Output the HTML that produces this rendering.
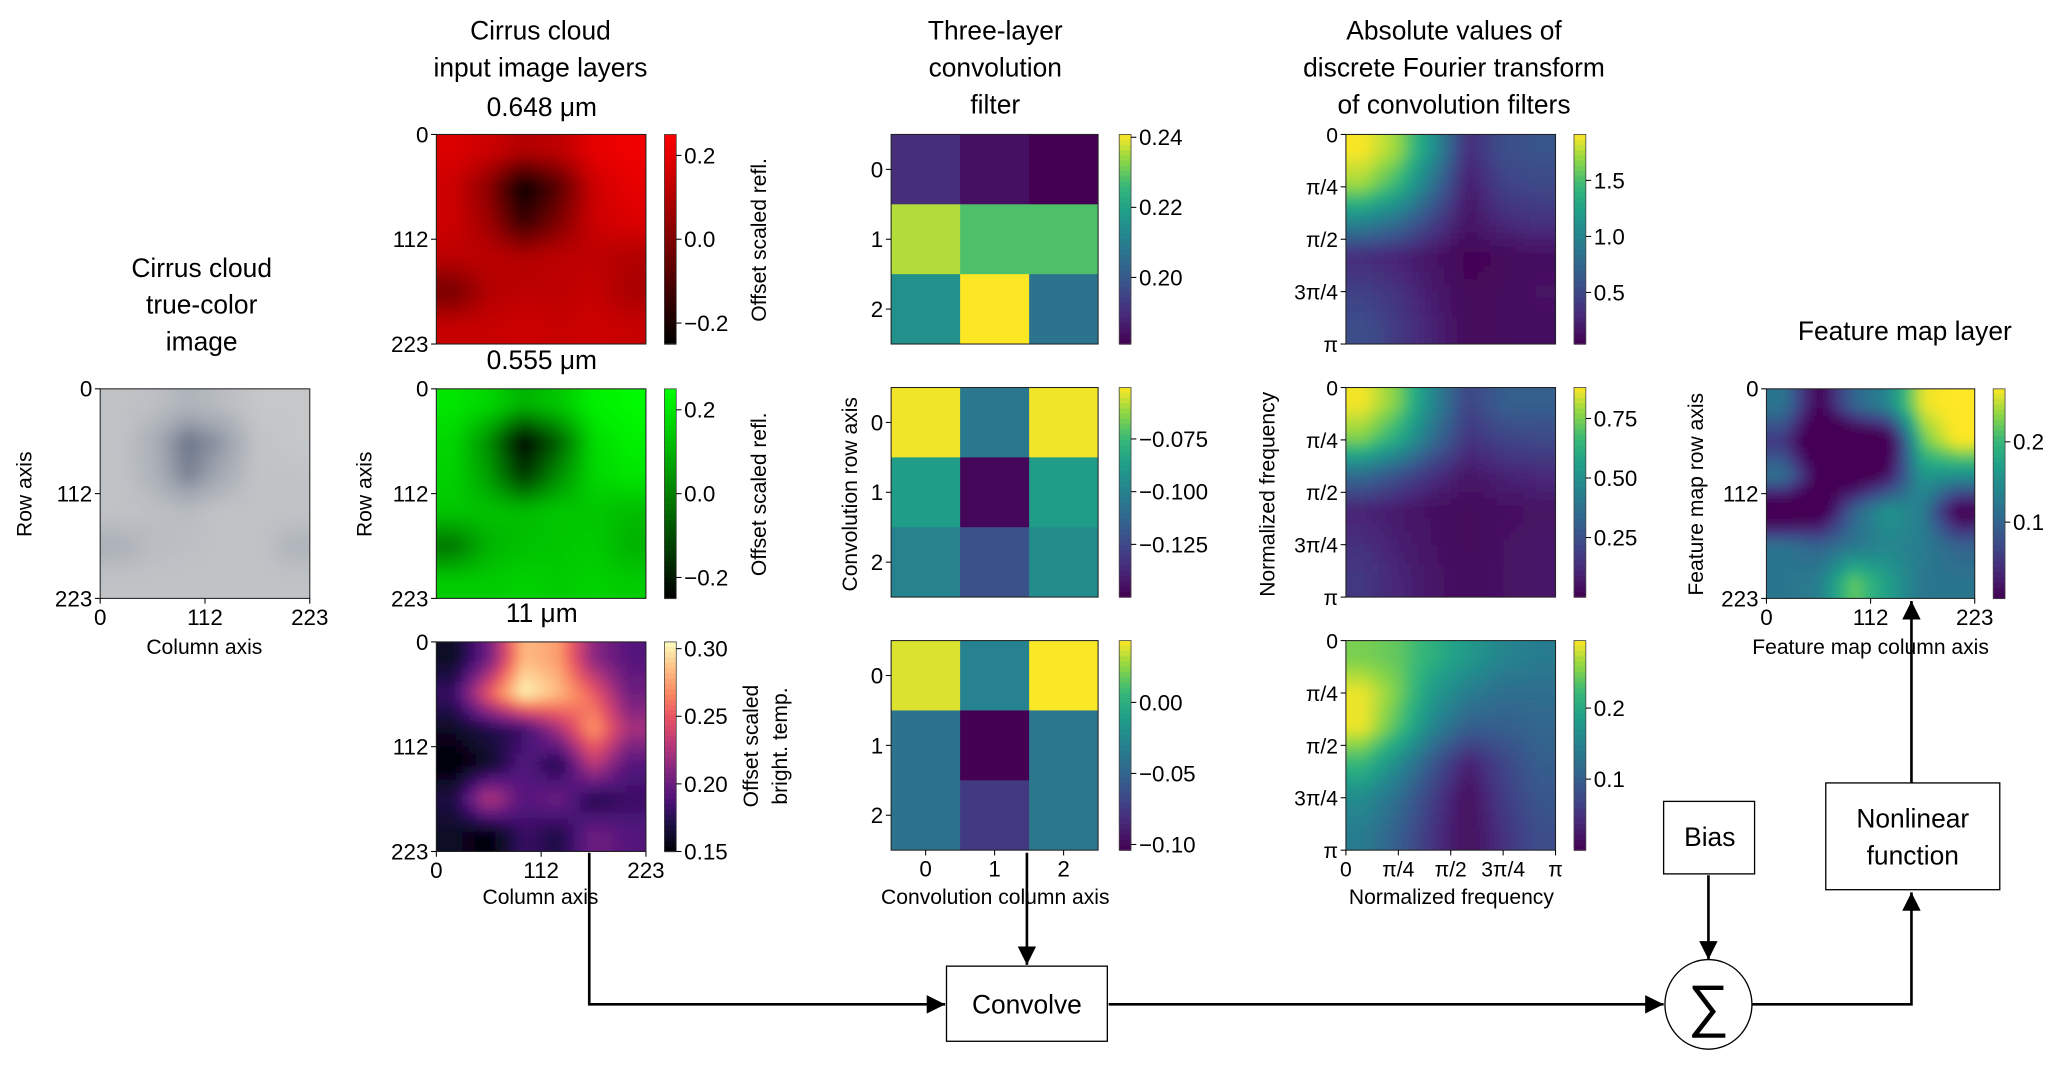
<!DOCTYPE html>
<html><head><meta charset="utf-8">
<style>
html,body{margin:0;padding:0;background:#fff;}
svg{display:block;}
text{font-family:"Liberation Sans","DejaVu Sans",sans-serif;fill:#000;}
</style></head>
<body>
<svg id="fig" width="2067" height="1065" viewBox="0 0 1568 808" preserveAspectRatio="none" xmlns="http://www.w3.org/2000/svg">
<defs>
<filter id="blur" x="-0.2" y="-0.2" width="1.4" height="1.4"><feGaussianBlur stdDeviation="4" edgeMode="duplicate"/></filter>
<marker id="arr" viewBox="0 0 10 10" refX="10" refY="5" markerWidth="7" markerHeight="7" orient="auto"><path d="M0,0 L10,5 L0,10 z" fill="#000"/></marker>
</defs>
</svg>
<script>
// ---- data ----
const trueColorGrid=[[0.1,0.15,0.3,0.2,0.05,0.05],[0.1,0.35,0.85,0.6,0.1,0.05],[0.1,0.3,0.75,0.4,0.1,0.1],[0.1,0.15,0.2,0.1,0.1,0.1],[0.35,0.2,0.15,0.1,0.1,0.3],[0.1,0.1,0.1,0.1,0.1,0.1]];
const redGrid=[[0.18,0.15,0.1,0.12,0.2,0.22],[0.15,0.02,-0.24,-0.08,0.15,0.2],[0.15,0.06,-0.14,0.0,0.15,0.18],[0.12,0.12,0.1,0.12,0.12,0.1],[-0.02,0.1,0.12,0.12,0.14,0.08],[0.14,0.14,0.15,0.14,0.15,0.14]];
const greenGrid=[[0.2,0.17,0.1,0.14,0.22,0.24],[0.17,0.03,-0.24,-0.06,0.18,0.22],[0.16,0.06,-0.14,0.03,0.17,0.2],[0.14,0.13,0.12,0.14,0.14,0.12],[-0.02,0.1,0.13,0.14,0.15,0.1],[0.15,0.15,0.16,0.15,0.16,0.15]];
const btGrid=[[0.16,0.2,0.28,0.27,0.21,0.19],[0.18,0.25,0.3,0.28,0.25,0.2],[0.16,0.17,0.18,0.22,0.27,0.22],[0.15,0.16,0.19,0.17,0.23,0.19],[0.17,0.23,0.19,0.2,0.17,0.18],[0.16,0.15,0.18,0.17,0.2,0.19]];
const filter1=[[0.19,0.184,0.181],[0.236,0.228,0.228],[0.215,0.243,0.207]];
const filter2=[[-0.052,-0.105,-0.052],[-0.088,-0.148,-0.088],[-0.1,-0.122,-0.095]];
const filter3=[[0.038,-0.03,0.043],[-0.04,-0.104,-0.038],[-0.04,-0.075,-0.038]];
const fft1=[[1.9,1.7,1.1,0.3,0.55,0.6],[1.7,1.4,0.8,0.2,0.45,0.5],[1.0,0.8,0.45,0.15,0.3,0.35],[0.3,0.25,0.15,0.05,0.08,0.12],[0.45,0.35,0.2,0.08,0.1,0.15],[0.55,0.4,0.25,0.08,0.1,0.12]];
const fft2=[[0.87,0.75,0.45,0.2,0.3,0.3],[0.75,0.6,0.35,0.15,0.2,0.22],[0.35,0.25,0.14,0.06,0.1,0.12],[0.1,0.07,0.04,0.02,0.04,0.05],[0.14,0.09,0.05,0.02,0.05,0.06],[0.17,0.11,0.06,0.03,0.05,0.06]];
const fft3=[[0.25,0.24,0.21,0.18,0.15,0.14],[0.29,0.25,0.18,0.14,0.12,0.12],[0.29,0.23,0.15,0.1,0.1,0.11],[0.22,0.16,0.09,0.03,0.07,0.1],[0.16,0.12,0.06,0.01,0.06,0.09],[0.14,0.1,0.05,0.01,0.05,0.08]];
const featureGrid=[[0.12,0.0,0.1,0.14,0.26,0.27],[0.05,-0.05,-0.05,-0.03,0.22,0.27],[0.12,0.0,-0.03,0.02,0.16,0.15],[-0.05,-0.03,0.1,0.16,0.13,-0.01],[0.12,0.1,0.12,0.14,0.13,0.1],[0.12,0.13,0.22,0.17,0.12,0.12]];
const pixTicks=['0','112','223'];
const filtTicks=['0','1','2'];
const freqTicks=['0','π/4','π/2','3π/4','π'];
const cbRedTicks=[0.2,0.0,-0.2];
const cbBtTicks=[0.30,0.25,0.20,0.15];
const cbF1Ticks=[0.24,0.22,0.20];
const cbF2Ticks=[-0.075,-0.100,-0.125];
const cbF3Ticks=[0.00,-0.05,-0.10];
const cbFft1Ticks=[1.5,1.0,0.5];
const cbFft2Ticks=[0.75,0.50,0.25];
const cbFft3Ticks=[0.2,0.1];
const cbFeatTicks=[0.2,0.1];

const NS='http://www.w3.org/2000/svg';
const svg=document.getElementById('fig');
function el(tag,attrs,parent){const e=document.createElementNS(NS,tag);for(const k in attrs)e.setAttribute(k,attrs[k]);(parent||svg).appendChild(e);return e;}
function hex(c){return [parseInt(c.slice(1,3),16),parseInt(c.slice(3,5),16),parseInt(c.slice(5,7),16)];}
function mk(stops){return t=>{t=Math.max(0,Math.min(1,t));for(let i=1;i<stops.length;i++){if(t<=stops[i][0]){const a=stops[i-1],b=stops[i];const f=(t-a[0])/(b[0]-a[0]);const A=hex(a[1]),B=hex(b[1]);return 'rgb('+A.map((v,j)=>Math.round(v+(B[j]-v)*f)).join(',')+')';}}return stops[stops.length-1][1];};}
const viridis=mk([[0,'#440154'],[0.13,'#482878'],[0.25,'#3e4989'],[0.38,'#31688e'],[0.5,'#26828e'],[0.63,'#1f9e89'],[0.75,'#35b779'],[0.88,'#8fd744'],[1,'#fde725']]);
const magma=mk([[0,'#000004'],[0.13,'#1c1044'],[0.25,'#4f127b'],[0.38,'#812581'],[0.5,'#b5367a'],[0.63,'#e55064'],[0.75,'#fb8761'],[0.88,'#fec287'],[1,'#fcfdbf']]);
const reds=mk([[0,'#000000'],[1,'#ff0000']]);
const greens=mk([[0,'#000000'],[1,'#00ff00']]);
const grays=mk([[0,'#c9cbcc'],[0.5,'#9ea4ae'],[1,'#56607a']]);
let clipId=0;

// bilinear sample of grid at fractional (row, col) in cell-center coordinates
function sample(grid,fr,fc){
  const R=grid.length,C=grid[0].length;
  fr=Math.max(0,Math.min(R-1,fr));fc=Math.max(0,Math.min(C-1,fc));
  const r0=Math.floor(fr),c0=Math.floor(fc),r1=Math.min(R-1,r0+1),c1=Math.min(C-1,c0+1);
  const a=fr-r0,b=fc-c0;
  return grid[r0][c0]*(1-a)*(1-b)+grid[r0][c1]*(1-a)*b+grid[r1][c0]*a*(1-b)+grid[r1][c1]*a*b;
}
function heat(name,grid,x,y,w,h,cmap,vmin,vmax,smooth){
  const g=el('g',{});
  
  
  const cid='c'+(clipId++);
  const cp=el('clipPath',{id:cid},g);el('rect',{x:x,y:y,width:w,height:h},cp);
  const outer=el('g',{'clip-path':'url(#'+cid+')'},g);
  const inner=el('g',smooth?{filter:'url(#blur)'}:{},outer);
  const R=grid.length,C=grid[0].length;
  if(!smooth){
    const cw=w/C,ch=h/R;
    for(let r=0;r<R;r++)for(let c=0;c<C;c++){
      const cell=el('rect',{x:x+c*cw,y:y+r*ch,width:cw+0.6,height:ch+0.6,fill:cmap((grid[r][c]-vmin)/(vmax-vmin))},inner);
      
      
    }
  } else {
    const N=32,cw=w/N,ch=h/N,pad=12;
    for(let i=0;i<N;i++)for(let j=0;j<N;j++){
      const fr=(i+0.5)/N*R-0.5,fc=(j+0.5)/N*C-0.5;
      const v=sample(grid,fr,fc);
      let rx=x+j*cw,ry=y+i*ch,rw=cw+0.5,rh=ch+0.5;
      if(j===0){rx-=pad;rw+=pad;}if(j===N-1)rw+=pad;if(i===0){ry-=pad;rh+=pad;}if(i===N-1)rh+=pad;
      const cell=el('rect',{x:rx,y:ry,width:rw,height:rh,fill:cmap((v-vmin)/(vmax-vmin))},inner);
      
      
    }
  }
  el('rect',{x:x,y:y,width:w,height:h,fill:'none',stroke:'#222','stroke-width':0.8},g);
  return g;
}
function txt(s,x,y,size,anchor,name,rot){
  const t=el('text',{x:x,y:y,'font-size':size,'text-anchor':anchor||'middle'});
  if(rot)t.setAttribute('transform','rotate(-90 '+x+' '+y+')');
  t.textContent=s;
  
  
  return t;
}
function yTicks(labels,x,y,h,centered,fs){
  const n=labels.length;
  labels.forEach((l,i)=>{const yy=centered? y+(i+0.5)*h/n : y+i*h/(n-1);
    el('line',{x1:x-4,y1:yy,x2:x,y2:yy,stroke:'#000','stroke-width':0.8});
    txt(l,x-6,yy+6,fs||17,'end','y-tick');});
}
function xTicks(labels,x,y,w,centered,fs){
  const n=labels.length;
  labels.forEach((l,i)=>{const xx=centered? x+(i+0.5)*w/n : x+i*w/(n-1);
    el('line',{x1:xx,y1:y,x2:xx,y2:y+4,stroke:'#000','stroke-width':0.8});
    txt(l,xx,y+20,fs||17,'middle','x-tick');});
}
function cbar(name,x,y,h,cmap,vmin,vmax,ticks,fmt){
  const g=el('g',{});
  
  
  const N=40;
  for(let i=0;i<N;i++){el('rect',{x:x,y:y+i*h/N,width:9,height:h/N+0.5,fill:cmap(1-(i+0.5)/N)},g);}
  el('rect',{x:x,y:y,width:9,height:h,fill:'none',stroke:'#444','stroke-width':0.6},g);
  ticks.forEach(v=>{const yy=y+(vmax-v)/(vmax-vmin)*h;
    el('line',{x1:x+9,y1:yy,x2:x+13,y2:yy,stroke:'#000','stroke-width':0.8},g);
    const s=(v<0?'−':'')+Math.abs(v).toFixed(fmt);
    txt(s,x+15,yy+6,17,'start','colorbar-tick');});
}

// ---- column 1: true color ----
txt('Cirrus cloud',153,210,20,'middle','truecolor-title');
txt('true-color',153,238,20,'middle','truecolor-title');
txt('image',153,266,20,'middle','truecolor-title');
heat('truecolor-image',trueColorGrid,76,295,159,159,grays,0,1,true);
yTicks(pixTicks,76,295,159,false);xTicks(pixTicks,76,454,159,false);
txt('Row axis',24,375,16,'middle','row-axis-title',true);
txt('Column axis',155,496,16,'middle','column-axis-title');

// ---- column 2: input layers ----
txt('Cirrus cloud',410,30,20,'middle','input-title');
txt('input image layers',410,58,20,'middle','input-title');
txt('0.648 μm',411,88,20,'middle','band-title');
txt('0.555 μm',411,280,20,'middle','band-title');
txt('11 μm',411,472,20,'middle','band-title');
heat('red-band-image',redGrid,331,102,159,159,reds,-0.25,0.25,true);
heat('green-band-image',greenGrid,331,295,159,159,greens,-0.25,0.25,true);
heat('bt-band-image',btGrid,331,487,159,159,magma,0.15,0.30,true);
[102,295,487].forEach(y=>yTicks(pixTicks,331,y,159,false));
xTicks(pixTicks,331,646,159,false);
txt('Row axis',282,375,16,'middle','row-axis-title',true);
txt('Column axis',410,686,16,'middle','column-axis-title');
cbar('red-colorbar',504,102,159,reds,-0.25,0.25,cbRedTicks,1);
cbar('green-colorbar',504,295,159,greens,-0.25,0.25,cbRedTicks,1);
cbar('bt-colorbar',504,487,159,magma,0.15,0.305,cbBtTicks,2);
txt('Offset scaled refl.',581,182,16,'middle','colorbar-label',true);
txt('Offset scaled refl.',581,375,16,'middle','colorbar-label',true);
txt('Offset scaled',575,566,16,'middle','colorbar-label',true);
txt('bright. temp.',597,566,16,'middle','colorbar-label',true);

// ---- column 3: filters ----
txt('Three-layer',755,30,20,'middle','filter-title');
txt('convolution',755,58,20,'middle','filter-title');
txt('filter',755,86,20,'middle','filter-title');
heat('filter-layer-1',filter1,676,102,157,159,viridis,0.181,0.2408,false);
heat('filter-layer-2',filter2,676,294,157,159,viridis,-0.150,-0.0506,false);
heat('filter-layer-3',filter3,676,486,157,159,viridis,-0.104,0.0435,false);
[102,294,486].forEach(y=>yTicks(filtTicks,676,y,159,true));
xTicks(filtTicks,676,645,157,true);
txt('Convolution row axis',650,375,16,'middle','filter-row-axis-title',true);
txt('Convolution column axis',755,686,16,'middle','filter-column-axis-title');
cbar('filter1-colorbar',849,102,159,viridis,0.181,0.2408,cbF1Ticks,2);
cbar('filter2-colorbar',849,294,159,viridis,-0.150,-0.0506,cbF2Ticks,3);
cbar('filter3-colorbar',849,486,159,viridis,-0.104,0.0435,cbF3Ticks,2);

// ---- column 4: FFT ----
txt('Absolute values of',1103,30,20,'middle','fft-title');
txt('discrete Fourier transform',1103,58,20,'middle','fft-title');
txt('of convolution filters',1103,86,20,'middle','fft-title');
heat('fft-layer-1',fft1,1021,102,159,159,viridis,0.04,1.91,true);
heat('fft-layer-2',fft2,1021,294,159,159,viridis,0.0,0.88,true);
heat('fft-layer-3',fft3,1021,486,159,159,viridis,0.0,0.295,true);
[102,294,486].forEach(y=>yTicks(freqTicks,1021,y,159,false,16));
xTicks(freqTicks,1021,645,159,false,16);
txt('Normalized frequency',967,375,16,'middle','frequency-axis-title',true);
txt('Normalized frequency',1101,686,16,'middle','frequency-axis-title');
cbar('fft1-colorbar',1194,102,159,viridis,0.04,1.91,cbFft1Ticks,1);
cbar('fft2-colorbar',1194,294,159,viridis,0.0,0.88,cbFft2Ticks,2);
cbar('fft3-colorbar',1194,486,159,viridis,0.0,0.295,cbFft3Ticks,1);

// ---- feature map ----
txt('Feature map layer',1445,258,20,'middle','feature-title');
heat('feature-map',featureGrid,1340,295,158,159,viridis,0.005,0.266,true);
yTicks(pixTicks,1340,295,159,false);xTicks(pixTicks,1340,454,158,false);
txt('Feature map row axis',1292,375,16,'middle','feature-row-axis-title',true);
txt('Feature map column axis',1419,496,16,'middle','feature-column-axis-title');
cbar('feature-colorbar',1512,295,159,viridis,0.005,0.266,cbFeatTicks,1);

// ---- flow diagram ----
const L={stroke:'#000','stroke-width':2,fill:'none'};
el('path',Object.assign({d:'M447,647 L447,762 L717,762','marker-end':'url(#arr)'},L));
el('path',Object.assign({d:'M779,647 L779,732','marker-end':'url(#arr)'},L));
el('path',Object.assign({d:'M841,762 L1262,762','marker-end':'url(#arr)'},L));
el('path',Object.assign({d:'M1296,664 L1296,728','marker-end':'url(#arr)'},L));
el('path',Object.assign({d:'M1329,762 L1450,762 L1450,677','marker-end':'url(#arr)'},L));
el('path',Object.assign({d:'M1450,594 L1450,456','marker-end':'url(#arr)'},L));
const cb=el('rect',{x:718,y:733,width:122,height:57,fill:'#fff',stroke:'#000','stroke-width':1});

txt('Convolve',779,769,20,'middle','convolve-label');
const bb=el('rect',{x:1262,y:608,width:69,height:55,fill:'#fff',stroke:'#000','stroke-width':1});

txt('Bias',1297,642,20,'middle','bias-label');
const nb=el('rect',{x:1385,y:594,width:132,height:81,fill:'#fff',stroke:'#000','stroke-width':1});

txt('Nonlinear',1451,628,20,'middle','nonlinear-label');
txt('function',1451,656,20,'middle','nonlinear-label');
const sc=el('ellipse',{cx:1296,cy:762,rx:33,ry:34,fill:'#fff',stroke:'#000','stroke-width':1});

const sg=el('text',{x:1296,y:778,'font-size':44,'text-anchor':'middle','font-family':'"Liberation Serif",serif'});
sg.textContent='∑';


</script>
</body></html>
